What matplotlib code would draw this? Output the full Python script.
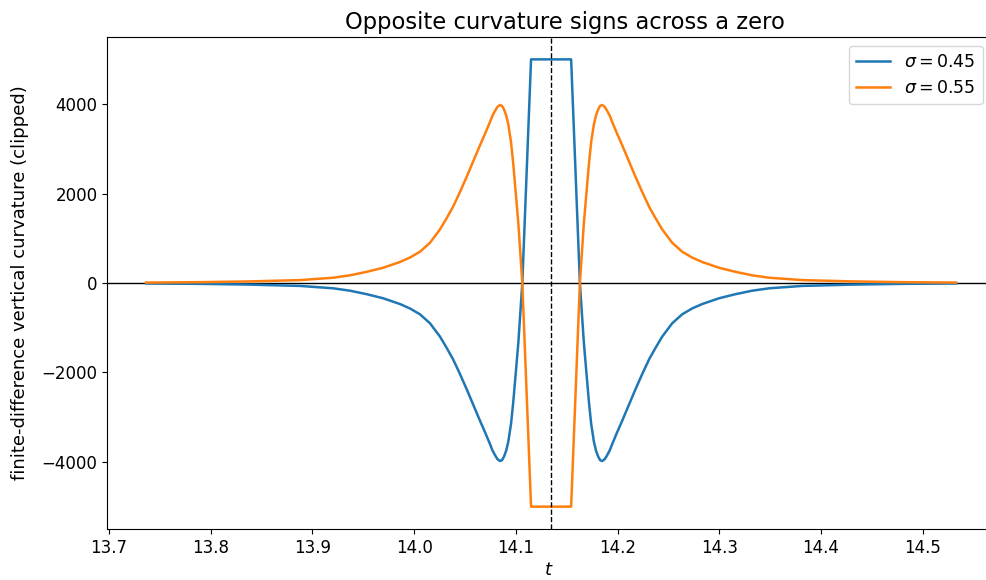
#!/usr/bin/env python3

import matplotlib
matplotlib.use('Agg')
import matplotlib.pyplot as plt

# location of the zero on the critical line
t_zero = 14.1347

# sample positions (t), left half then right half
t_values = [
    13.7364, 13.7895, 13.8387, 13.8878, 13.9203, 13.9370, 13.9534, 13.9694,
    13.9861, 13.9960, 14.0058, 14.0156, 14.0255, 14.0320, 14.0382, 14.0450,
    14.0520, 14.0648, 14.0700, 14.0746, 14.0770, 14.0796, 14.0820, 14.0845,
    14.0865, 14.0884, 14.0905, 14.0926, 14.0953, 14.0975, 14.1000, 14.1025,
    14.1064, 14.1107, 14.1150,
    14.1544, 14.1587, 14.1630, 14.1669, 14.1694, 14.1719, 14.1741, 14.1768,
    14.1789, 14.1810, 14.1829, 14.1849, 14.1874, 14.1898, 14.1924, 14.1948,
    14.1994, 14.2046, 14.2174, 14.2244, 14.2312, 14.2374, 14.2439, 14.2538,
    14.2636, 14.2733, 14.2833, 14.3000, 14.3160, 14.3324, 14.3491, 14.3816,
    14.4307, 14.4799, 14.5330,
]

# curvature for sigma = 0.55 (orange), clipped at +-5000
curv_055 = [
    10, 19, 36, 65, 118, 172, 250, 340,
    470, 570, 700, 900, 1200, 1450, 1700, 2030,
    2390, 3080, 3350, 3600, 3740, 3850, 3940, 3980,
    3960, 3880, 3750, 3550, 3150, 2660, 2000, 1330,
    0, -2500, -5000,
    -5000, -2500, 0, 1330, 2000, 2660, 3150, 3550,
    3750, 3880, 3960, 3980, 3940, 3850, 3740, 3600,
    3350, 3080, 2390, 2030, 1700, 1450, 1200, 900,
    700, 570, 470, 340, 250, 172, 118, 65,
    36, 19, 10,
]

# curvature for sigma = 0.45 (blue), clipped at +-5000
curv_045 = [
    -10, -19, -36, -65, -118, -172, -250, -340,
    -470, -570, -700, -900, -1200, -1450, -1700, -2030,
    -2390, -3080, -3350, -3600, -3740, -3850, -3940, -3980,
    -3960, -3880, -3750, -3550, -3150, -2660, -2000, -1330,
    0, 2500, 5000,
    5000, 2500, 0, -1330, -2000, -2660, -3150, -3550,
    -3750, -3880, -3960, -3980, -3940, -3850, -3740, -3600,
    -3350, -3080, -2390, -2030, -1700, -1450, -1200, -900,
    -700, -570, -470, -340, -250, -172, -118, -65,
    -36, -19, -10,
]


def plot_curvature():
    fig = plt.figure(figsize=(9.87, 5.8), dpi=100)
    ax = fig.add_axes([0.1087, 0.0879, 0.8956, 0.8483])

    ax.axhline(0, color='black', lw=1)
    ax.plot(t_values, curv_045, color='#1f77b4', lw=1.8, label=r'$\sigma = 0.45$')
    ax.plot(t_values, curv_055, color='#ff7f0e', lw=1.8, label=r'$\sigma = 0.55$')
    ax.axvline(t_zero, color='black', ls='--', lw=1)

    ax.set_xlim(13.6983, 14.5675)
    ax.set_ylim(-5500, 5500)
    ax.set_xticks([13.7, 13.8, 13.9, 14.0, 14.1, 14.2, 14.3, 14.4, 14.5])
    ax.set_yticks([-4000, -2000, 0, 2000, 4000])
    ax.tick_params(labelsize=12)
    ax.set_title('Opposite curvature signs across a zero', fontsize=16.3, x=0.518)
    ax.set_xlabel(r'$t$', fontsize=13, labelpad=3)
    ax.set_ylabel('finite-difference vertical curvature (clipped)', fontsize=13, labelpad=9)
    ax.legend(loc='upper right', fontsize=12.5)

    fig.savefig('out.png', dpi=100)


if __name__ == "__main__":
    plot_curvature()
